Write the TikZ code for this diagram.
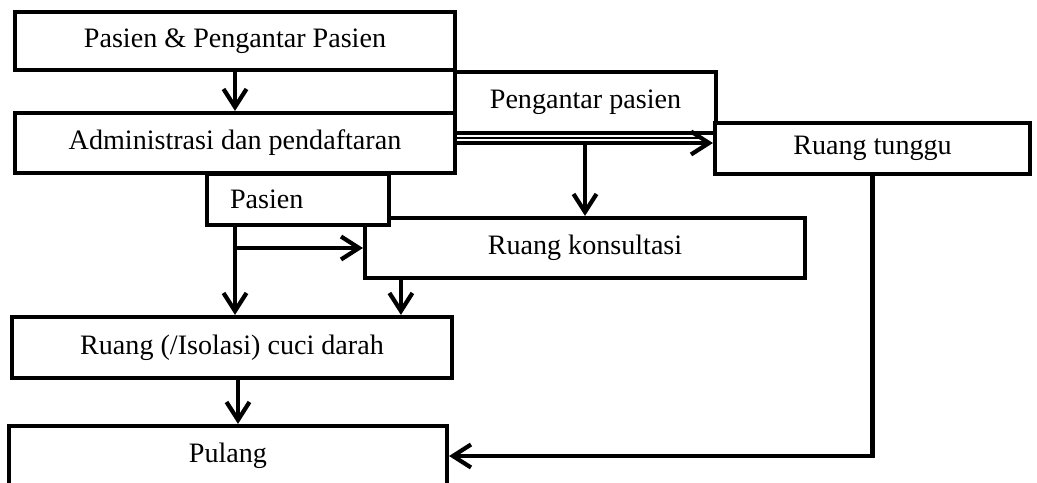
\documentclass[tikz,border=0pt]{standalone}
\usepackage{fontspec}
\setmainfont{Liberation Serif}
\usepackage{tikz}
\usetikzlibrary{arrows.meta}
\usetikzlibrary{calc}
\tikzstyle{kotak}=[
        rectangle,
        draw,
        line width=2.4pt,
        fill=white,
        inner sep=0pt,
        font=\fontsize{16}{19}\selectfont
]
\tikzstyle{alur}=[-{Straight Barb[length=0.36cm,width=0.46cm]},line width=2.4pt]
\tikzstyle{garis}=[line width=1.1pt]

\begin{document}
\begin{tikzpicture}[x=0.02cm,y=-0.02cm]
\useasboundingbox (0,0) rectangle (1037,483);
\node[kotak,minimum width=8.8cm,minimum height=1.16cm] (awal) at (235,41) {Pasien \& Pengantar Pasien};
\node[kotak,minimum width=8.8cm,minimum height=1.2cm] (adm) at (235,143) {Administrasi dan pendaftaran};
\node[kotak,minimum width=5.22cm,minimum height=1.22cm] (antar) at (585.5,102.5) {Pengantar pasien};
\node[kotak,minimum width=6.3cm,minimum height=1.02cm] (tunggu) at (872.5,148.5) {Ruang tunggu};
\node[kotak,minimum width=8.8cm,minimum height=1.2cm] (konsul) at (585,248) {Ruang konsultasi};
\node[kotak,inner xsep=0.46cm,text width=2.72cm,align=left,minimum height=1.02cm] (pasien) at (298,199.5) {Pasien};
\node[kotak,minimum width=8.8cm,minimum height=1.22cm] (cuci) at (232,347.5) {Ruang (/Isolasi) cuci darah};
\node[kotak,minimum width=8.76cm,minimum height=1.2cm] (pulang) at (228,456) {Pulang};
%Anak panah
\draw[alur] (awal) -- (adm);
\draw[garis,shorten >=0.18cm] ([yshift=0.1cm]adm.east) -- ([yshift=0.1cm]adm.east -| tunggu.west);
\draw[alur] (adm.east) -- (adm.east -| tunggu.west);
\draw[alur] (adm.east -| konsul.north) -- (konsul.north);
\draw[alur] (adm.south |- pasien.south) -- (adm.south |- cuci.north);
\draw[alur] (adm.south |- konsul.west) -- (konsul.west);
\draw[alur] ([xshift=0.76cm]konsul.south west) -- ([xshift=0.76cm]konsul.south west |- cuci.north);
\draw[alur] ([xshift=0.12cm]cuci.south) -- ([xshift=0.12cm]cuci.south |- pulang.north);
\draw[alur] (tunggu.south) |- (pulang.east);
\end{tikzpicture}
\end{document}
